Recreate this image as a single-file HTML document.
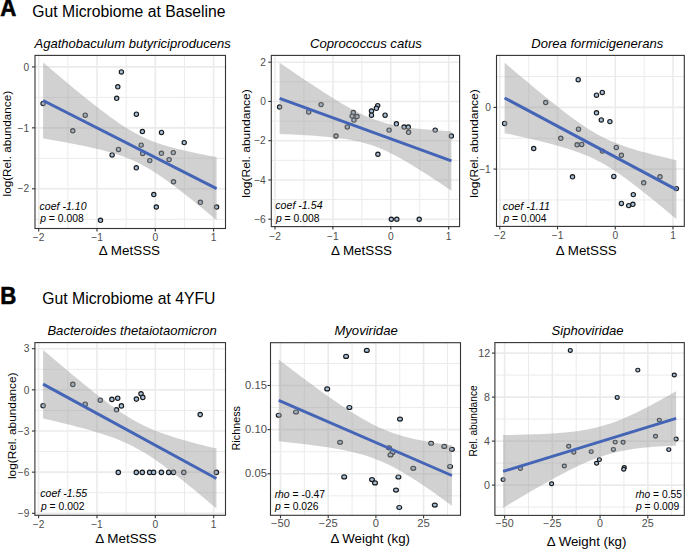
<!DOCTYPE html>
<html><head><meta charset="utf-8"><style>
html,body{margin:0;padding:0;background:#fff;}
svg{display:block;font-family:"Liberation Sans", sans-serif;}
</style></head><body>
<svg width="685" height="549" viewBox="0 0 685 549">
<rect width="685" height="549" fill="#fff"/>
<g>
<line x1="67.85" y1="55.4" x2="67.85" y2="228.5" stroke="#EBEBEB" stroke-width="1"/>
<line x1="126.15" y1="55.4" x2="126.15" y2="228.5" stroke="#EBEBEB" stroke-width="1"/>
<line x1="184.45" y1="55.4" x2="184.45" y2="228.5" stroke="#EBEBEB" stroke-width="1"/>
<line x1="35" y1="97.38" x2="225.5" y2="97.38" stroke="#EBEBEB" stroke-width="1"/>
<line x1="35" y1="158.33" x2="225.5" y2="158.33" stroke="#EBEBEB" stroke-width="1"/>
<line x1="35" y1="219.28" x2="225.5" y2="219.28" stroke="#EBEBEB" stroke-width="1"/>
<line x1="38.7" y1="55.4" x2="38.7" y2="228.5" stroke="#EBEBEB" stroke-width="1.6"/>
<line x1="97" y1="55.4" x2="97" y2="228.5" stroke="#EBEBEB" stroke-width="1.6"/>
<line x1="155.3" y1="55.4" x2="155.3" y2="228.5" stroke="#EBEBEB" stroke-width="1.6"/>
<line x1="213.6" y1="55.4" x2="213.6" y2="228.5" stroke="#EBEBEB" stroke-width="1.6"/>
<line x1="35" y1="66.9" x2="225.5" y2="66.9" stroke="#EBEBEB" stroke-width="1.6"/>
<line x1="35" y1="127.85" x2="225.5" y2="127.85" stroke="#EBEBEB" stroke-width="1.6"/>
<line x1="35" y1="188.8" x2="225.5" y2="188.8" stroke="#EBEBEB" stroke-width="1.6"/>
<ellipse cx="43.1" cy="103.4" rx="2.15" ry="2.15" fill="#A6C0DC" stroke="#1A1A1A" stroke-width="1.15"/>
<ellipse cx="72.8" cy="130.7" rx="2.15" ry="2.15" fill="#A6C0DC" stroke="#1A1A1A" stroke-width="1.15"/>
<ellipse cx="85.2" cy="115.2" rx="2.15" ry="2.15" fill="#A6C0DC" stroke="#1A1A1A" stroke-width="1.15"/>
<ellipse cx="116.7" cy="98.3" rx="2.15" ry="2.15" fill="#A6C0DC" stroke="#1A1A1A" stroke-width="1.15"/>
<ellipse cx="117.8" cy="86.8" rx="2.15" ry="2.15" fill="#A6C0DC" stroke="#1A1A1A" stroke-width="1.15"/>
<ellipse cx="121.4" cy="71.9" rx="2.15" ry="2.15" fill="#A6C0DC" stroke="#1A1A1A" stroke-width="1.15"/>
<ellipse cx="118.5" cy="149.4" rx="2.15" ry="2.15" fill="#A6C0DC" stroke="#1A1A1A" stroke-width="1.15"/>
<ellipse cx="112.1" cy="154.9" rx="2.15" ry="2.15" fill="#A6C0DC" stroke="#1A1A1A" stroke-width="1.15"/>
<ellipse cx="100.5" cy="220.3" rx="2.15" ry="2.15" fill="#A6C0DC" stroke="#1A1A1A" stroke-width="1.15"/>
<ellipse cx="136.4" cy="114.2" rx="2.15" ry="2.15" fill="#A6C0DC" stroke="#1A1A1A" stroke-width="1.15"/>
<ellipse cx="142.4" cy="131.5" rx="2.15" ry="2.15" fill="#A6C0DC" stroke="#1A1A1A" stroke-width="1.15"/>
<ellipse cx="161.5" cy="132.4" rx="2.15" ry="2.15" fill="#A6C0DC" stroke="#1A1A1A" stroke-width="1.15"/>
<ellipse cx="184.2" cy="142.6" rx="2.15" ry="2.15" fill="#A6C0DC" stroke="#1A1A1A" stroke-width="1.15"/>
<ellipse cx="141.2" cy="145.1" rx="2.15" ry="2.15" fill="#A6C0DC" stroke="#1A1A1A" stroke-width="1.15"/>
<ellipse cx="142.7" cy="153.4" rx="2.15" ry="2.15" fill="#A6C0DC" stroke="#1A1A1A" stroke-width="1.15"/>
<ellipse cx="149.8" cy="160.6" rx="2.15" ry="2.15" fill="#A6C0DC" stroke="#1A1A1A" stroke-width="1.15"/>
<ellipse cx="136.3" cy="167.8" rx="2.15" ry="2.15" fill="#A6C0DC" stroke="#1A1A1A" stroke-width="1.15"/>
<ellipse cx="161.4" cy="153.3" rx="2.15" ry="2.15" fill="#A6C0DC" stroke="#1A1A1A" stroke-width="1.15"/>
<ellipse cx="169.1" cy="159.6" rx="2.15" ry="2.15" fill="#A6C0DC" stroke="#1A1A1A" stroke-width="1.15"/>
<ellipse cx="173.3" cy="152.6" rx="2.15" ry="2.15" fill="#A6C0DC" stroke="#1A1A1A" stroke-width="1.15"/>
<ellipse cx="173.5" cy="181.7" rx="2.15" ry="2.15" fill="#A6C0DC" stroke="#1A1A1A" stroke-width="1.15"/>
<ellipse cx="153.8" cy="194.5" rx="2.15" ry="2.15" fill="#A6C0DC" stroke="#1A1A1A" stroke-width="1.15"/>
<ellipse cx="156.3" cy="207" rx="2.15" ry="2.15" fill="#A6C0DC" stroke="#1A1A1A" stroke-width="1.15"/>
<ellipse cx="200.4" cy="202.3" rx="2.15" ry="2.15" fill="#A6C0DC" stroke="#1A1A1A" stroke-width="1.15"/>
<ellipse cx="216.6" cy="207" rx="2.15" ry="2.15" fill="#A6C0DC" stroke="#1A1A1A" stroke-width="1.15"/>
<path d="M43.1,62.57 L47.55,66.34 L52,70.09 L56.45,73.83 L60.89,77.56 L65.34,81.27 L69.79,84.96 L74.24,88.63 L78.69,92.28 L83.14,95.9 L87.59,99.48 L92.04,103.02 L96.48,106.52 L100.93,109.96 L105.38,113.33 L109.83,116.63 L114.28,119.83 L118.73,122.92 L123.18,125.88 L127.63,128.7 L132.07,131.35 L136.52,133.82 L140.97,136.11 L145.42,138.22 L149.87,140.14 L154.32,141.89 L158.77,143.49 L163.22,144.96 L167.66,146.31 L172.11,147.56 L176.56,148.73 L181.01,149.83 L185.46,150.87 L189.91,151.86 L194.36,152.8 L198.81,153.71 L203.25,154.59 L207.7,155.45 L212.15,156.28 L216.6,157.09 L216.6,220.14 L212.15,216.43 L207.7,212.75 L203.25,209.08 L198.81,205.45 L194.36,201.84 L189.91,198.27 L185.46,194.74 L181.01,191.26 L176.56,187.84 L172.11,184.49 L167.66,181.23 L163.22,178.06 L158.77,175.01 L154.32,172.09 L149.87,169.33 L145.42,166.74 L140.97,164.32 L136.52,162.09 L132.07,160.05 L127.63,158.19 L123.18,156.48 L118.73,154.93 L114.28,153.5 L109.83,152.19 L105.38,150.96 L100.93,149.82 L96.48,148.74 L92.04,147.72 L87.59,146.75 L83.14,145.81 L78.69,144.91 L74.24,144.04 L69.79,143.2 L65.34,142.37 L60.89,141.56 L56.45,140.77 L52,140 L47.55,139.23 L43.1,138.48Z" fill="#999999" fill-opacity="0.45"/>
<line x1="43.1" y1="100.53" x2="216.6" y2="188.62" stroke="#4464B6" stroke-width="2.9"/>
<rect x="35" y="55.4" width="190.5" height="173.1" fill="none" stroke="#333333" stroke-width="1.1"/>
<line x1="38.7" y1="228.5" x2="38.7" y2="231.5" stroke="#333333" stroke-width="1.1"/>
<line x1="97" y1="228.5" x2="97" y2="231.5" stroke="#333333" stroke-width="1.1"/>
<line x1="155.3" y1="228.5" x2="155.3" y2="231.5" stroke="#333333" stroke-width="1.1"/>
<line x1="213.6" y1="228.5" x2="213.6" y2="231.5" stroke="#333333" stroke-width="1.1"/>
<line x1="32" y1="66.9" x2="35" y2="66.9" stroke="#333333" stroke-width="1.1"/>
<line x1="32" y1="127.85" x2="35" y2="127.85" stroke="#333333" stroke-width="1.1"/>
<line x1="32" y1="188.8" x2="35" y2="188.8" stroke="#333333" stroke-width="1.1"/>
</g>
<g>
<line x1="303.95" y1="55.4" x2="303.95" y2="226.6" stroke="#EBEBEB" stroke-width="1"/>
<line x1="361.85" y1="55.4" x2="361.85" y2="226.6" stroke="#EBEBEB" stroke-width="1"/>
<line x1="419.75" y1="55.4" x2="419.75" y2="226.6" stroke="#EBEBEB" stroke-width="1"/>
<line x1="271.3" y1="81.83" x2="459.6" y2="81.83" stroke="#EBEBEB" stroke-width="1"/>
<line x1="271.3" y1="121.08" x2="459.6" y2="121.08" stroke="#EBEBEB" stroke-width="1"/>
<line x1="271.3" y1="160.32" x2="459.6" y2="160.32" stroke="#EBEBEB" stroke-width="1"/>
<line x1="271.3" y1="199.57" x2="459.6" y2="199.57" stroke="#EBEBEB" stroke-width="1"/>
<line x1="275" y1="55.4" x2="275" y2="226.6" stroke="#EBEBEB" stroke-width="1.6"/>
<line x1="332.9" y1="55.4" x2="332.9" y2="226.6" stroke="#EBEBEB" stroke-width="1.6"/>
<line x1="390.8" y1="55.4" x2="390.8" y2="226.6" stroke="#EBEBEB" stroke-width="1.6"/>
<line x1="448.7" y1="55.4" x2="448.7" y2="226.6" stroke="#EBEBEB" stroke-width="1.6"/>
<line x1="271.3" y1="62.2" x2="459.6" y2="62.2" stroke="#EBEBEB" stroke-width="1.6"/>
<line x1="271.3" y1="101.45" x2="459.6" y2="101.45" stroke="#EBEBEB" stroke-width="1.6"/>
<line x1="271.3" y1="140.7" x2="459.6" y2="140.7" stroke="#EBEBEB" stroke-width="1.6"/>
<line x1="271.3" y1="179.95" x2="459.6" y2="179.95" stroke="#EBEBEB" stroke-width="1.6"/>
<line x1="271.3" y1="219.2" x2="459.6" y2="219.2" stroke="#EBEBEB" stroke-width="1.6"/>
<ellipse cx="279.6" cy="107" rx="2.15" ry="2.15" fill="#A6C0DC" stroke="#1A1A1A" stroke-width="1.15"/>
<ellipse cx="308.7" cy="111.9" rx="2.15" ry="2.15" fill="#A6C0DC" stroke="#1A1A1A" stroke-width="1.15"/>
<ellipse cx="321.1" cy="104.6" rx="2.15" ry="2.15" fill="#A6C0DC" stroke="#1A1A1A" stroke-width="1.15"/>
<ellipse cx="336" cy="136" rx="2.15" ry="2.15" fill="#A6C0DC" stroke="#1A1A1A" stroke-width="1.15"/>
<ellipse cx="347.3" cy="126.9" rx="2.15" ry="2.15" fill="#A6C0DC" stroke="#1A1A1A" stroke-width="1.15"/>
<ellipse cx="353.3" cy="112.5" rx="2.15" ry="2.15" fill="#A6C0DC" stroke="#1A1A1A" stroke-width="1.15"/>
<ellipse cx="352.1" cy="116.1" rx="2.15" ry="2.15" fill="#A6C0DC" stroke="#1A1A1A" stroke-width="1.15"/>
<ellipse cx="357" cy="116.5" rx="2.15" ry="2.15" fill="#A6C0DC" stroke="#1A1A1A" stroke-width="1.15"/>
<ellipse cx="353.9" cy="120.1" rx="2.15" ry="2.15" fill="#A6C0DC" stroke="#1A1A1A" stroke-width="1.15"/>
<ellipse cx="377.7" cy="105.6" rx="2.15" ry="2.15" fill="#A6C0DC" stroke="#1A1A1A" stroke-width="1.15"/>
<ellipse cx="376.4" cy="108.3" rx="2.15" ry="2.15" fill="#A6C0DC" stroke="#1A1A1A" stroke-width="1.15"/>
<ellipse cx="371.5" cy="111" rx="2.15" ry="2.15" fill="#A6C0DC" stroke="#1A1A1A" stroke-width="1.15"/>
<ellipse cx="371.5" cy="115.2" rx="2.15" ry="2.15" fill="#A6C0DC" stroke="#1A1A1A" stroke-width="1.15"/>
<ellipse cx="385.1" cy="115.2" rx="2.15" ry="2.15" fill="#A6C0DC" stroke="#1A1A1A" stroke-width="1.15"/>
<ellipse cx="396.4" cy="123.8" rx="2.15" ry="2.15" fill="#A6C0DC" stroke="#1A1A1A" stroke-width="1.15"/>
<ellipse cx="389.1" cy="130.1" rx="2.15" ry="2.15" fill="#A6C0DC" stroke="#1A1A1A" stroke-width="1.15"/>
<ellipse cx="404.1" cy="127" rx="2.15" ry="2.15" fill="#A6C0DC" stroke="#1A1A1A" stroke-width="1.15"/>
<ellipse cx="408.3" cy="127" rx="2.15" ry="2.15" fill="#A6C0DC" stroke="#1A1A1A" stroke-width="1.15"/>
<ellipse cx="408.6" cy="132.3" rx="2.15" ry="2.15" fill="#A6C0DC" stroke="#1A1A1A" stroke-width="1.15"/>
<ellipse cx="435.2" cy="130.1" rx="2.15" ry="2.15" fill="#A6C0DC" stroke="#1A1A1A" stroke-width="1.15"/>
<ellipse cx="451.4" cy="136" rx="2.15" ry="2.15" fill="#A6C0DC" stroke="#1A1A1A" stroke-width="1.15"/>
<ellipse cx="377.9" cy="154.2" rx="2.15" ry="2.15" fill="#A6C0DC" stroke="#1A1A1A" stroke-width="1.15"/>
<ellipse cx="391.3" cy="219.2" rx="2.15" ry="2.15" fill="#A6C0DC" stroke="#1A1A1A" stroke-width="1.15"/>
<ellipse cx="396.8" cy="219.2" rx="2.15" ry="2.15" fill="#A6C0DC" stroke="#1A1A1A" stroke-width="1.15"/>
<ellipse cx="419.2" cy="219.2" rx="2.15" ry="2.15" fill="#A6C0DC" stroke="#1A1A1A" stroke-width="1.15"/>
<path d="M279.6,62.71 L284.01,65.72 L288.41,68.73 L292.82,71.73 L297.22,74.72 L301.63,77.69 L306.03,80.64 L310.44,83.57 L314.84,86.48 L319.25,89.36 L323.65,92.2 L328.06,95.01 L332.46,97.78 L336.87,100.49 L341.27,103.14 L345.68,105.71 L350.08,108.2 L354.49,110.58 L358.89,112.84 L363.3,114.96 L367.7,116.92 L372.11,118.72 L376.51,120.34 L380.92,121.79 L385.32,123.07 L389.73,124.19 L394.13,125.17 L398.54,126.02 L402.94,126.76 L407.35,127.41 L411.75,127.99 L416.16,128.5 L420.56,128.95 L424.97,129.36 L429.37,129.73 L433.78,130.06 L438.18,130.37 L442.59,130.65 L446.99,130.91 L451.4,131.15 L451.4,190.65 L446.99,187.68 L442.59,184.74 L438.18,181.81 L433.78,178.91 L429.37,176.03 L424.97,173.19 L420.56,170.39 L416.16,167.64 L411.75,164.94 L407.35,162.3 L402.94,159.75 L398.54,157.28 L394.13,154.93 L389.73,152.7 L385.32,150.61 L380.92,148.68 L376.51,146.92 L372.11,145.34 L367.7,143.92 L363.3,142.68 L358.89,141.59 L354.49,140.64 L350.08,139.81 L345.68,139.09 L341.27,138.46 L336.87,137.9 L332.46,137.4 L328.06,136.96 L323.65,136.56 L319.25,136.2 L314.84,135.87 L310.44,135.57 L306.03,135.3 L301.63,135.04 L297.22,134.8 L292.82,134.58 L288.41,134.37 L284.01,134.17 L279.6,133.98Z" fill="#999999" fill-opacity="0.45"/>
<line x1="279.6" y1="98.34" x2="451.4" y2="160.9" stroke="#4464B6" stroke-width="2.9"/>
<rect x="271.3" y="55.4" width="188.3" height="171.2" fill="none" stroke="#333333" stroke-width="1.1"/>
<line x1="275" y1="226.6" x2="275" y2="229.6" stroke="#333333" stroke-width="1.1"/>
<line x1="332.9" y1="226.6" x2="332.9" y2="229.6" stroke="#333333" stroke-width="1.1"/>
<line x1="390.8" y1="226.6" x2="390.8" y2="229.6" stroke="#333333" stroke-width="1.1"/>
<line x1="448.7" y1="226.6" x2="448.7" y2="229.6" stroke="#333333" stroke-width="1.1"/>
<line x1="268.3" y1="62.2" x2="271.3" y2="62.2" stroke="#333333" stroke-width="1.1"/>
<line x1="268.3" y1="101.45" x2="271.3" y2="101.45" stroke="#333333" stroke-width="1.1"/>
<line x1="268.3" y1="140.7" x2="271.3" y2="140.7" stroke="#333333" stroke-width="1.1"/>
<line x1="268.3" y1="179.95" x2="271.3" y2="179.95" stroke="#333333" stroke-width="1.1"/>
<line x1="268.3" y1="219.2" x2="271.3" y2="219.2" stroke="#333333" stroke-width="1.1"/>
</g>
<g>
<line x1="528.67" y1="55.4" x2="528.67" y2="226.4" stroke="#EBEBEB" stroke-width="1"/>
<line x1="586.4" y1="55.4" x2="586.4" y2="226.4" stroke="#EBEBEB" stroke-width="1"/>
<line x1="644.13" y1="55.4" x2="644.13" y2="226.4" stroke="#EBEBEB" stroke-width="1"/>
<line x1="496.5" y1="76.55" x2="684.3" y2="76.55" stroke="#EBEBEB" stroke-width="1"/>
<line x1="496.5" y1="138.25" x2="684.3" y2="138.25" stroke="#EBEBEB" stroke-width="1"/>
<line x1="496.5" y1="199.95" x2="684.3" y2="199.95" stroke="#EBEBEB" stroke-width="1"/>
<line x1="499.8" y1="55.4" x2="499.8" y2="226.4" stroke="#EBEBEB" stroke-width="1.6"/>
<line x1="557.53" y1="55.4" x2="557.53" y2="226.4" stroke="#EBEBEB" stroke-width="1.6"/>
<line x1="615.27" y1="55.4" x2="615.27" y2="226.4" stroke="#EBEBEB" stroke-width="1.6"/>
<line x1="673" y1="55.4" x2="673" y2="226.4" stroke="#EBEBEB" stroke-width="1.6"/>
<line x1="496.5" y1="107.4" x2="684.3" y2="107.4" stroke="#EBEBEB" stroke-width="1.6"/>
<line x1="496.5" y1="169.1" x2="684.3" y2="169.1" stroke="#EBEBEB" stroke-width="1.6"/>
<ellipse cx="504.6" cy="123.4" rx="2.15" ry="2.15" fill="#A6C0DC" stroke="#1A1A1A" stroke-width="1.15"/>
<ellipse cx="545.7" cy="102.5" rx="2.15" ry="2.15" fill="#A6C0DC" stroke="#1A1A1A" stroke-width="1.15"/>
<ellipse cx="578.2" cy="79.7" rx="2.15" ry="2.15" fill="#A6C0DC" stroke="#1A1A1A" stroke-width="1.15"/>
<ellipse cx="578.5" cy="129.2" rx="2.15" ry="2.15" fill="#A6C0DC" stroke="#1A1A1A" stroke-width="1.15"/>
<ellipse cx="560.8" cy="138.3" rx="2.15" ry="2.15" fill="#A6C0DC" stroke="#1A1A1A" stroke-width="1.15"/>
<ellipse cx="533.7" cy="148.5" rx="2.15" ry="2.15" fill="#A6C0DC" stroke="#1A1A1A" stroke-width="1.15"/>
<ellipse cx="577.1" cy="144.8" rx="2.15" ry="2.15" fill="#A6C0DC" stroke="#1A1A1A" stroke-width="1.15"/>
<ellipse cx="581.7" cy="144.4" rx="2.15" ry="2.15" fill="#A6C0DC" stroke="#1A1A1A" stroke-width="1.15"/>
<ellipse cx="596.5" cy="95.2" rx="2.15" ry="2.15" fill="#A6C0DC" stroke="#1A1A1A" stroke-width="1.15"/>
<ellipse cx="602.3" cy="92.4" rx="2.15" ry="2.15" fill="#A6C0DC" stroke="#1A1A1A" stroke-width="1.15"/>
<ellipse cx="596.5" cy="112.8" rx="2.15" ry="2.15" fill="#A6C0DC" stroke="#1A1A1A" stroke-width="1.15"/>
<ellipse cx="601.3" cy="119.9" rx="2.15" ry="2.15" fill="#A6C0DC" stroke="#1A1A1A" stroke-width="1.15"/>
<ellipse cx="609.9" cy="121.6" rx="2.15" ry="2.15" fill="#A6C0DC" stroke="#1A1A1A" stroke-width="1.15"/>
<ellipse cx="616.3" cy="147.4" rx="2.15" ry="2.15" fill="#A6C0DC" stroke="#1A1A1A" stroke-width="1.15"/>
<ellipse cx="602.4" cy="151.1" rx="2.15" ry="2.15" fill="#A6C0DC" stroke="#1A1A1A" stroke-width="1.15"/>
<ellipse cx="621.4" cy="155.2" rx="2.15" ry="2.15" fill="#A6C0DC" stroke="#1A1A1A" stroke-width="1.15"/>
<ellipse cx="613.8" cy="176.4" rx="2.15" ry="2.15" fill="#A6C0DC" stroke="#1A1A1A" stroke-width="1.15"/>
<ellipse cx="660" cy="176.8" rx="2.15" ry="2.15" fill="#A6C0DC" stroke="#1A1A1A" stroke-width="1.15"/>
<ellipse cx="643.7" cy="182.8" rx="2.15" ry="2.15" fill="#A6C0DC" stroke="#1A1A1A" stroke-width="1.15"/>
<ellipse cx="676.4" cy="188.6" rx="2.15" ry="2.15" fill="#A6C0DC" stroke="#1A1A1A" stroke-width="1.15"/>
<ellipse cx="633.3" cy="194.6" rx="2.15" ry="2.15" fill="#A6C0DC" stroke="#1A1A1A" stroke-width="1.15"/>
<ellipse cx="621.4" cy="203.4" rx="2.15" ry="2.15" fill="#A6C0DC" stroke="#1A1A1A" stroke-width="1.15"/>
<ellipse cx="628.7" cy="205.6" rx="2.15" ry="2.15" fill="#A6C0DC" stroke="#1A1A1A" stroke-width="1.15"/>
<ellipse cx="632.9" cy="204.3" rx="2.15" ry="2.15" fill="#A6C0DC" stroke="#1A1A1A" stroke-width="1.15"/>
<ellipse cx="572.5" cy="176.8" rx="2.15" ry="2.15" fill="#A6C0DC" stroke="#1A1A1A" stroke-width="1.15"/>
<path d="M504.6,62.71 L509.01,66.47 L513.41,70.21 L517.82,73.94 L522.22,77.66 L526.63,81.36 L531.03,85.05 L535.44,88.71 L539.84,92.35 L544.25,95.97 L548.65,99.55 L553.06,103.09 L557.46,106.59 L561.87,110.04 L566.27,113.42 L570.68,116.73 L575.08,119.95 L579.49,123.07 L583.89,126.06 L588.3,128.92 L592.7,131.62 L597.11,134.15 L601.51,136.52 L605.92,138.7 L610.32,140.73 L614.73,142.59 L619.13,144.32 L623.54,145.92 L627.94,147.41 L632.35,148.82 L636.75,150.15 L641.16,151.41 L645.56,152.62 L649.97,153.78 L654.37,154.91 L658.78,156 L663.18,157.07 L667.59,158.11 L671.99,159.13 L676.4,160.13 L676.4,219.14 L671.99,215.44 L667.59,211.75 L663.18,208.09 L658.78,204.45 L654.37,200.84 L649.97,197.27 L645.56,193.73 L641.16,190.23 L636.75,186.79 L632.35,183.42 L627.94,180.12 L623.54,176.91 L619.13,173.81 L614.73,170.83 L610.32,168 L605.92,165.31 L601.51,162.8 L597.11,160.46 L592.7,158.29 L588.3,156.29 L583.89,154.44 L579.49,152.73 L575.08,151.15 L570.68,149.66 L566.27,148.27 L561.87,146.95 L557.46,145.69 L553.06,144.49 L548.65,143.33 L544.25,142.21 L539.84,141.12 L535.44,140.06 L531.03,139.02 L526.63,138 L522.22,137 L517.82,136.02 L513.41,135.05 L509.01,134.09 L504.6,133.14Z" fill="#999999" fill-opacity="0.45"/>
<line x1="504.6" y1="97.92" x2="676.4" y2="189.63" stroke="#4464B6" stroke-width="2.9"/>
<rect x="496.5" y="55.4" width="187.8" height="171" fill="none" stroke="#333333" stroke-width="1.1"/>
<line x1="499.8" y1="226.4" x2="499.8" y2="229.4" stroke="#333333" stroke-width="1.1"/>
<line x1="557.53" y1="226.4" x2="557.53" y2="229.4" stroke="#333333" stroke-width="1.1"/>
<line x1="615.27" y1="226.4" x2="615.27" y2="229.4" stroke="#333333" stroke-width="1.1"/>
<line x1="673" y1="226.4" x2="673" y2="229.4" stroke="#333333" stroke-width="1.1"/>
<line x1="493.5" y1="107.4" x2="496.5" y2="107.4" stroke="#333333" stroke-width="1.1"/>
<line x1="493.5" y1="169.1" x2="496.5" y2="169.1" stroke="#333333" stroke-width="1.1"/>
</g>
<g>
<line x1="67.78" y1="342.6" x2="67.78" y2="515.3" stroke="#EBEBEB" stroke-width="1"/>
<line x1="126.15" y1="342.6" x2="126.15" y2="515.3" stroke="#EBEBEB" stroke-width="1"/>
<line x1="184.52" y1="342.6" x2="184.52" y2="515.3" stroke="#EBEBEB" stroke-width="1"/>
<line x1="34.9" y1="369.27" x2="225.5" y2="369.27" stroke="#EBEBEB" stroke-width="1"/>
<line x1="34.9" y1="410.42" x2="225.5" y2="410.42" stroke="#EBEBEB" stroke-width="1"/>
<line x1="34.9" y1="451.57" x2="225.5" y2="451.57" stroke="#EBEBEB" stroke-width="1"/>
<line x1="34.9" y1="492.72" x2="225.5" y2="492.72" stroke="#EBEBEB" stroke-width="1"/>
<line x1="38.6" y1="342.6" x2="38.6" y2="515.3" stroke="#EBEBEB" stroke-width="1.6"/>
<line x1="96.97" y1="342.6" x2="96.97" y2="515.3" stroke="#EBEBEB" stroke-width="1.6"/>
<line x1="155.33" y1="342.6" x2="155.33" y2="515.3" stroke="#EBEBEB" stroke-width="1.6"/>
<line x1="213.7" y1="342.6" x2="213.7" y2="515.3" stroke="#EBEBEB" stroke-width="1.6"/>
<line x1="34.9" y1="348.7" x2="225.5" y2="348.7" stroke="#EBEBEB" stroke-width="1.6"/>
<line x1="34.9" y1="389.85" x2="225.5" y2="389.85" stroke="#EBEBEB" stroke-width="1.6"/>
<line x1="34.9" y1="431" x2="225.5" y2="431" stroke="#EBEBEB" stroke-width="1.6"/>
<line x1="34.9" y1="472.15" x2="225.5" y2="472.15" stroke="#EBEBEB" stroke-width="1.6"/>
<line x1="34.9" y1="513.3" x2="225.5" y2="513.3" stroke="#EBEBEB" stroke-width="1.6"/>
<ellipse cx="43.1" cy="405.7" rx="2.2" ry="2.2" fill="#A6C0DC" stroke="#1A1A1A" stroke-width="1.15"/>
<ellipse cx="72.8" cy="384.4" rx="2.2" ry="2.2" fill="#A6C0DC" stroke="#1A1A1A" stroke-width="1.15"/>
<ellipse cx="85.2" cy="404.2" rx="2.2" ry="2.2" fill="#A6C0DC" stroke="#1A1A1A" stroke-width="1.15"/>
<ellipse cx="100.3" cy="400.2" rx="2.2" ry="2.2" fill="#A6C0DC" stroke="#1A1A1A" stroke-width="1.15"/>
<ellipse cx="111.9" cy="399.4" rx="2.2" ry="2.2" fill="#A6C0DC" stroke="#1A1A1A" stroke-width="1.15"/>
<ellipse cx="117.7" cy="398.2" rx="2.2" ry="2.2" fill="#A6C0DC" stroke="#1A1A1A" stroke-width="1.15"/>
<ellipse cx="121.4" cy="405.9" rx="2.2" ry="2.2" fill="#A6C0DC" stroke="#1A1A1A" stroke-width="1.15"/>
<ellipse cx="116.5" cy="409.8" rx="2.2" ry="2.2" fill="#A6C0DC" stroke="#1A1A1A" stroke-width="1.15"/>
<ellipse cx="141" cy="393.8" rx="2.2" ry="2.2" fill="#A6C0DC" stroke="#1A1A1A" stroke-width="1.15"/>
<ellipse cx="142.8" cy="397.4" rx="2.2" ry="2.2" fill="#A6C0DC" stroke="#1A1A1A" stroke-width="1.15"/>
<ellipse cx="136.4" cy="399.1" rx="2.2" ry="2.2" fill="#A6C0DC" stroke="#1A1A1A" stroke-width="1.15"/>
<ellipse cx="200.2" cy="414.6" rx="2.2" ry="2.2" fill="#A6C0DC" stroke="#1A1A1A" stroke-width="1.15"/>
<ellipse cx="118.3" cy="472.4" rx="2.2" ry="2.2" fill="#A6C0DC" stroke="#1A1A1A" stroke-width="1.15"/>
<ellipse cx="136.3" cy="472.4" rx="2.2" ry="2.2" fill="#A6C0DC" stroke="#1A1A1A" stroke-width="1.15"/>
<ellipse cx="142.3" cy="472.4" rx="2.2" ry="2.2" fill="#A6C0DC" stroke="#1A1A1A" stroke-width="1.15"/>
<ellipse cx="149.6" cy="472.4" rx="2.2" ry="2.2" fill="#A6C0DC" stroke="#1A1A1A" stroke-width="1.15"/>
<ellipse cx="153.6" cy="472.4" rx="2.2" ry="2.2" fill="#A6C0DC" stroke="#1A1A1A" stroke-width="1.15"/>
<ellipse cx="161.4" cy="472.4" rx="2.2" ry="2.2" fill="#A6C0DC" stroke="#1A1A1A" stroke-width="1.15"/>
<ellipse cx="168.7" cy="472.4" rx="2.2" ry="2.2" fill="#A6C0DC" stroke="#1A1A1A" stroke-width="1.15"/>
<ellipse cx="173.5" cy="472.4" rx="2.2" ry="2.2" fill="#A6C0DC" stroke="#1A1A1A" stroke-width="1.15"/>
<ellipse cx="183.8" cy="472.4" rx="2.2" ry="2.2" fill="#A6C0DC" stroke="#1A1A1A" stroke-width="1.15"/>
<ellipse cx="216.4" cy="472.4" rx="2.2" ry="2.2" fill="#A6C0DC" stroke="#1A1A1A" stroke-width="1.15"/>
<path d="M43.1,349.88 L47.54,353.68 L51.99,357.47 L56.43,361.24 L60.87,365 L65.32,368.75 L69.76,372.47 L74.21,376.18 L78.65,379.85 L83.09,383.5 L87.54,387.12 L91.98,390.69 L96.42,394.21 L100.87,397.68 L105.31,401.08 L109.75,404.39 L114.2,407.62 L118.64,410.73 L123.08,413.71 L127.53,416.56 L131.97,419.24 L136.42,421.76 L140.86,424.11 L145.3,426.3 L149.75,428.32 L154.19,430.2 L158.63,431.95 L163.08,433.59 L167.52,435.12 L171.96,436.58 L176.41,437.96 L180.85,439.29 L185.29,440.56 L189.74,441.8 L194.18,443 L198.63,444.16 L203.07,445.3 L207.51,446.42 L211.96,447.52 L216.4,448.6 L216.4,508.43 L211.96,504.67 L207.51,500.93 L203.07,497.21 L198.63,493.51 L194.18,489.84 L189.74,486.2 L185.29,482.59 L180.85,479.03 L176.41,475.51 L171.96,472.06 L167.52,468.67 L163.08,465.37 L158.63,462.17 L154.19,459.08 L149.75,456.12 L145.3,453.3 L140.86,450.65 L136.42,448.16 L131.97,445.84 L127.53,443.68 L123.08,441.69 L118.64,439.83 L114.2,438.1 L109.75,436.49 L105.31,434.96 L100.87,433.52 L96.42,432.15 L91.98,430.83 L87.54,429.57 L83.09,428.34 L78.65,427.15 L74.21,425.99 L69.76,424.85 L65.32,423.73 L60.87,422.64 L56.43,421.56 L51.99,420.49 L47.54,419.44 L43.1,418.4Z" fill="#999999" fill-opacity="0.45"/>
<line x1="43.1" y1="384.14" x2="216.4" y2="478.52" stroke="#4464B6" stroke-width="2.9"/>
<rect x="34.9" y="342.6" width="190.6" height="172.7" fill="none" stroke="#333333" stroke-width="1.1"/>
<line x1="38.6" y1="515.3" x2="38.6" y2="518.3" stroke="#333333" stroke-width="1.1"/>
<line x1="96.97" y1="515.3" x2="96.97" y2="518.3" stroke="#333333" stroke-width="1.1"/>
<line x1="155.33" y1="515.3" x2="155.33" y2="518.3" stroke="#333333" stroke-width="1.1"/>
<line x1="213.7" y1="515.3" x2="213.7" y2="518.3" stroke="#333333" stroke-width="1.1"/>
<line x1="31.9" y1="348.7" x2="34.9" y2="348.7" stroke="#333333" stroke-width="1.1"/>
<line x1="31.9" y1="389.85" x2="34.9" y2="389.85" stroke="#333333" stroke-width="1.1"/>
<line x1="31.9" y1="431" x2="34.9" y2="431" stroke="#333333" stroke-width="1.1"/>
<line x1="31.9" y1="472.15" x2="34.9" y2="472.15" stroke="#333333" stroke-width="1.1"/>
<line x1="31.9" y1="513.3" x2="34.9" y2="513.3" stroke="#333333" stroke-width="1.1"/>
</g>
<g>
<line x1="304.35" y1="342.7" x2="304.35" y2="515.3" stroke="#EBEBEB" stroke-width="1"/>
<line x1="352.05" y1="342.7" x2="352.05" y2="515.3" stroke="#EBEBEB" stroke-width="1"/>
<line x1="399.75" y1="342.7" x2="399.75" y2="515.3" stroke="#EBEBEB" stroke-width="1"/>
<line x1="447.45" y1="342.7" x2="447.45" y2="515.3" stroke="#EBEBEB" stroke-width="1"/>
<line x1="270.5" y1="363.43" x2="460.5" y2="363.43" stroke="#EBEBEB" stroke-width="1"/>
<line x1="270.5" y1="407.57" x2="460.5" y2="407.57" stroke="#EBEBEB" stroke-width="1"/>
<line x1="270.5" y1="451.73" x2="460.5" y2="451.73" stroke="#EBEBEB" stroke-width="1"/>
<line x1="270.5" y1="495.88" x2="460.5" y2="495.88" stroke="#EBEBEB" stroke-width="1"/>
<line x1="280.5" y1="342.7" x2="280.5" y2="515.3" stroke="#EBEBEB" stroke-width="1.6"/>
<line x1="328.2" y1="342.7" x2="328.2" y2="515.3" stroke="#EBEBEB" stroke-width="1.6"/>
<line x1="375.9" y1="342.7" x2="375.9" y2="515.3" stroke="#EBEBEB" stroke-width="1.6"/>
<line x1="423.6" y1="342.7" x2="423.6" y2="515.3" stroke="#EBEBEB" stroke-width="1.6"/>
<line x1="270.5" y1="385.5" x2="460.5" y2="385.5" stroke="#EBEBEB" stroke-width="1.6"/>
<line x1="270.5" y1="429.65" x2="460.5" y2="429.65" stroke="#EBEBEB" stroke-width="1.6"/>
<line x1="270.5" y1="473.8" x2="460.5" y2="473.8" stroke="#EBEBEB" stroke-width="1.6"/>
<ellipse cx="278.7" cy="415.2" rx="2.45" ry="2.0" fill="#A6C0DC" stroke="#1A1A1A" stroke-width="1.15"/>
<ellipse cx="296" cy="412" rx="2.45" ry="2.0" fill="#A6C0DC" stroke="#1A1A1A" stroke-width="1.15"/>
<ellipse cx="327.2" cy="388.9" rx="2.45" ry="2.0" fill="#A6C0DC" stroke="#1A1A1A" stroke-width="1.15"/>
<ellipse cx="346.1" cy="356.4" rx="2.45" ry="2.0" fill="#A6C0DC" stroke="#1A1A1A" stroke-width="1.15"/>
<ellipse cx="349.4" cy="407.5" rx="2.45" ry="2.0" fill="#A6C0DC" stroke="#1A1A1A" stroke-width="1.15"/>
<ellipse cx="366.8" cy="350.4" rx="2.45" ry="2.0" fill="#A6C0DC" stroke="#1A1A1A" stroke-width="1.15"/>
<ellipse cx="400" cy="419.1" rx="2.45" ry="2.0" fill="#A6C0DC" stroke="#1A1A1A" stroke-width="1.15"/>
<ellipse cx="340.1" cy="442.3" rx="2.45" ry="2.0" fill="#A6C0DC" stroke="#1A1A1A" stroke-width="1.15"/>
<ellipse cx="344.2" cy="476.9" rx="2.45" ry="2.0" fill="#A6C0DC" stroke="#1A1A1A" stroke-width="1.15"/>
<ellipse cx="431.1" cy="443.2" rx="2.45" ry="2.0" fill="#A6C0DC" stroke="#1A1A1A" stroke-width="1.15"/>
<ellipse cx="444.3" cy="446.4" rx="2.45" ry="2.0" fill="#A6C0DC" stroke="#1A1A1A" stroke-width="1.15"/>
<ellipse cx="451.9" cy="449.3" rx="2.45" ry="2.0" fill="#A6C0DC" stroke="#1A1A1A" stroke-width="1.15"/>
<ellipse cx="450.1" cy="466.5" rx="2.45" ry="2.0" fill="#A6C0DC" stroke="#1A1A1A" stroke-width="1.15"/>
<ellipse cx="389" cy="447.8" rx="2.45" ry="2.0" fill="#A6C0DC" stroke="#1A1A1A" stroke-width="1.15"/>
<ellipse cx="392.5" cy="452.5" rx="2.45" ry="2.0" fill="#A6C0DC" stroke="#1A1A1A" stroke-width="1.15"/>
<ellipse cx="390.5" cy="454.9" rx="2.45" ry="2.0" fill="#A6C0DC" stroke="#1A1A1A" stroke-width="1.15"/>
<ellipse cx="413.3" cy="468.3" rx="2.45" ry="2.0" fill="#A6C0DC" stroke="#1A1A1A" stroke-width="1.15"/>
<ellipse cx="398.4" cy="477" rx="2.45" ry="2.0" fill="#A6C0DC" stroke="#1A1A1A" stroke-width="1.15"/>
<ellipse cx="372" cy="479.6" rx="2.45" ry="2.0" fill="#A6C0DC" stroke="#1A1A1A" stroke-width="1.15"/>
<ellipse cx="375" cy="482.9" rx="2.45" ry="2.0" fill="#A6C0DC" stroke="#1A1A1A" stroke-width="1.15"/>
<ellipse cx="396" cy="490.1" rx="2.45" ry="2.0" fill="#A6C0DC" stroke="#1A1A1A" stroke-width="1.15"/>
<ellipse cx="399.3" cy="507.5" rx="2.45" ry="2.0" fill="#A6C0DC" stroke="#1A1A1A" stroke-width="1.15"/>
<ellipse cx="434.8" cy="505.1" rx="2.45" ry="2.0" fill="#A6C0DC" stroke="#1A1A1A" stroke-width="1.15"/>
<path d="M278.7,359.58 L283.14,362.96 L287.58,366.34 L292.02,369.7 L296.46,373.05 L300.91,376.39 L305.35,379.7 L309.79,383 L314.23,386.27 L318.67,389.51 L323.11,392.72 L327.55,395.9 L331.99,399.03 L336.43,402.12 L340.87,405.15 L345.32,408.11 L349.76,411.01 L354.2,413.81 L358.64,416.52 L363.08,419.12 L367.52,421.6 L371.96,423.94 L376.4,426.14 L380.84,428.18 L385.28,430.07 L389.73,431.8 L394.17,433.38 L398.61,434.83 L403.05,436.14 L407.49,437.33 L411.93,438.43 L416.37,439.43 L420.81,440.35 L425.25,441.2 L429.69,441.99 L434.14,442.73 L438.58,443.42 L443.02,444.07 L447.46,444.7 L451.9,445.29 L451.9,505.67 L447.46,502.41 L443.02,499.19 L438.58,495.99 L434.14,492.84 L429.69,489.73 L425.25,486.67 L420.81,483.68 L416.37,480.75 L411.93,477.9 L407.49,475.14 L403.05,472.49 L398.61,469.95 L394.17,467.55 L389.73,465.28 L385.28,463.17 L380.84,461.21 L376.4,459.4 L371.96,457.75 L367.52,456.25 L363.08,454.87 L358.64,453.63 L354.2,452.49 L349.76,451.45 L345.32,450.49 L340.87,449.61 L336.43,448.79 L331.99,448.03 L327.55,447.32 L323.11,446.64 L318.67,446.01 L314.23,445.4 L309.79,444.82 L305.35,444.27 L300.91,443.74 L296.46,443.22 L292.02,442.72 L287.58,442.24 L283.14,441.77 L278.7,441.31Z" fill="#999999" fill-opacity="0.45"/>
<line x1="278.7" y1="400.44" x2="451.9" y2="475.48" stroke="#4464B6" stroke-width="2.9"/>
<rect x="270.5" y="342.7" width="190" height="172.6" fill="none" stroke="#333333" stroke-width="1.1"/>
<line x1="280.5" y1="515.3" x2="280.5" y2="518.3" stroke="#333333" stroke-width="1.1"/>
<line x1="328.2" y1="515.3" x2="328.2" y2="518.3" stroke="#333333" stroke-width="1.1"/>
<line x1="375.9" y1="515.3" x2="375.9" y2="518.3" stroke="#333333" stroke-width="1.1"/>
<line x1="423.6" y1="515.3" x2="423.6" y2="518.3" stroke="#333333" stroke-width="1.1"/>
<line x1="267.5" y1="385.5" x2="270.5" y2="385.5" stroke="#333333" stroke-width="1.1"/>
<line x1="267.5" y1="429.65" x2="270.5" y2="429.65" stroke="#333333" stroke-width="1.1"/>
<line x1="267.5" y1="473.8" x2="270.5" y2="473.8" stroke="#333333" stroke-width="1.1"/>
</g>
<g>
<line x1="528.47" y1="342.6" x2="528.47" y2="515.4" stroke="#EBEBEB" stroke-width="1"/>
<line x1="576.2" y1="342.6" x2="576.2" y2="515.4" stroke="#EBEBEB" stroke-width="1"/>
<line x1="623.93" y1="342.6" x2="623.93" y2="515.4" stroke="#EBEBEB" stroke-width="1"/>
<line x1="671.67" y1="342.6" x2="671.67" y2="515.4" stroke="#EBEBEB" stroke-width="1"/>
<line x1="494.9" y1="375.1" x2="684.3" y2="375.1" stroke="#EBEBEB" stroke-width="1"/>
<line x1="494.9" y1="419.1" x2="684.3" y2="419.1" stroke="#EBEBEB" stroke-width="1"/>
<line x1="494.9" y1="463.1" x2="684.3" y2="463.1" stroke="#EBEBEB" stroke-width="1"/>
<line x1="494.9" y1="507.1" x2="684.3" y2="507.1" stroke="#EBEBEB" stroke-width="1"/>
<line x1="504.6" y1="342.6" x2="504.6" y2="515.4" stroke="#EBEBEB" stroke-width="1.6"/>
<line x1="552.33" y1="342.6" x2="552.33" y2="515.4" stroke="#EBEBEB" stroke-width="1.6"/>
<line x1="600.07" y1="342.6" x2="600.07" y2="515.4" stroke="#EBEBEB" stroke-width="1.6"/>
<line x1="647.8" y1="342.6" x2="647.8" y2="515.4" stroke="#EBEBEB" stroke-width="1.6"/>
<line x1="494.9" y1="353.1" x2="684.3" y2="353.1" stroke="#EBEBEB" stroke-width="1.6"/>
<line x1="494.9" y1="397.1" x2="684.3" y2="397.1" stroke="#EBEBEB" stroke-width="1.6"/>
<line x1="494.9" y1="441.1" x2="684.3" y2="441.1" stroke="#EBEBEB" stroke-width="1.6"/>
<line x1="494.9" y1="485.1" x2="684.3" y2="485.1" stroke="#EBEBEB" stroke-width="1.6"/>
<ellipse cx="570.3" cy="350.4" rx="2.0" ry="1.9" fill="#A6C0DC" stroke="#1A1A1A" stroke-width="1.15"/>
<ellipse cx="637.8" cy="370.1" rx="2.0" ry="1.9" fill="#A6C0DC" stroke="#1A1A1A" stroke-width="1.15"/>
<ellipse cx="674.3" cy="375" rx="2.0" ry="1.9" fill="#A6C0DC" stroke="#1A1A1A" stroke-width="1.15"/>
<ellipse cx="617.2" cy="397.4" rx="2.0" ry="1.9" fill="#A6C0DC" stroke="#1A1A1A" stroke-width="1.15"/>
<ellipse cx="659.3" cy="420.1" rx="2.0" ry="1.9" fill="#A6C0DC" stroke="#1A1A1A" stroke-width="1.15"/>
<ellipse cx="655.5" cy="436.2" rx="2.0" ry="1.9" fill="#A6C0DC" stroke="#1A1A1A" stroke-width="1.15"/>
<ellipse cx="676.1" cy="439" rx="2.0" ry="1.9" fill="#A6C0DC" stroke="#1A1A1A" stroke-width="1.15"/>
<ellipse cx="503.1" cy="479.6" rx="2.0" ry="1.9" fill="#A6C0DC" stroke="#1A1A1A" stroke-width="1.15"/>
<ellipse cx="520.4" cy="468.4" rx="2.0" ry="1.9" fill="#A6C0DC" stroke="#1A1A1A" stroke-width="1.15"/>
<ellipse cx="551.6" cy="483.7" rx="2.0" ry="1.9" fill="#A6C0DC" stroke="#1A1A1A" stroke-width="1.15"/>
<ellipse cx="564.3" cy="466" rx="2.0" ry="1.9" fill="#A6C0DC" stroke="#1A1A1A" stroke-width="1.15"/>
<ellipse cx="568.7" cy="446.3" rx="2.0" ry="1.9" fill="#A6C0DC" stroke="#1A1A1A" stroke-width="1.15"/>
<ellipse cx="573.8" cy="452.3" rx="2.0" ry="1.9" fill="#A6C0DC" stroke="#1A1A1A" stroke-width="1.15"/>
<ellipse cx="591.2" cy="451.6" rx="2.0" ry="1.9" fill="#A6C0DC" stroke="#1A1A1A" stroke-width="1.15"/>
<ellipse cx="613.4" cy="449.4" rx="2.0" ry="1.9" fill="#A6C0DC" stroke="#1A1A1A" stroke-width="1.15"/>
<ellipse cx="615.2" cy="442.1" rx="2.0" ry="1.9" fill="#A6C0DC" stroke="#1A1A1A" stroke-width="1.15"/>
<ellipse cx="623.1" cy="442.3" rx="2.0" ry="1.9" fill="#A6C0DC" stroke="#1A1A1A" stroke-width="1.15"/>
<ellipse cx="668.8" cy="449.6" rx="2.0" ry="1.9" fill="#A6C0DC" stroke="#1A1A1A" stroke-width="1.15"/>
<ellipse cx="599.4" cy="459.6" rx="2.0" ry="1.9" fill="#A6C0DC" stroke="#1A1A1A" stroke-width="1.15"/>
<ellipse cx="596.6" cy="463.2" rx="2.0" ry="1.9" fill="#A6C0DC" stroke="#1A1A1A" stroke-width="1.15"/>
<ellipse cx="624.3" cy="467.5" rx="2.0" ry="1.9" fill="#A6C0DC" stroke="#1A1A1A" stroke-width="1.15"/>
<ellipse cx="623.7" cy="469.2" rx="2.0" ry="1.9" fill="#A6C0DC" stroke="#1A1A1A" stroke-width="1.15"/>
<path d="M503.1,435.01 L507.54,434.95 L511.97,434.88 L516.41,434.8 L520.84,434.7 L525.28,434.59 L529.72,434.46 L534.15,434.32 L538.59,434.15 L543.02,433.95 L547.46,433.73 L551.89,433.47 L556.33,433.18 L560.77,432.84 L565.2,432.45 L569.64,432 L574.07,431.48 L578.51,430.89 L582.95,430.21 L587.38,429.43 L591.82,428.54 L596.25,427.53 L600.69,426.39 L605.13,425.12 L609.56,423.71 L614,422.17 L618.43,420.5 L622.87,418.71 L627.31,416.8 L631.74,414.79 L636.18,412.69 L640.61,410.51 L645.05,408.25 L649.48,405.94 L653.92,403.58 L658.36,401.16 L662.79,398.71 L667.23,396.23 L671.66,393.71 L676.1,391.17 L676.1,445.64 L671.66,445.82 L667.23,446.02 L662.79,446.26 L658.36,446.53 L653.92,446.84 L649.48,447.19 L645.05,447.6 L640.61,448.07 L636.18,448.61 L631.74,449.23 L627.31,449.94 L622.87,450.75 L618.43,451.67 L614,452.72 L609.56,453.9 L605.13,455.21 L600.69,456.66 L596.25,458.25 L591.82,459.96 L587.38,461.79 L582.95,463.73 L578.51,465.77 L574.07,467.9 L569.64,470.1 L565.2,472.38 L560.77,474.71 L556.33,477.09 L551.89,479.51 L547.46,481.98 L543.02,484.47 L538.59,487 L534.15,489.55 L529.72,492.12 L525.28,494.71 L520.84,497.32 L516.41,499.95 L511.97,502.58 L507.54,505.23 L503.1,507.89Z" fill="#999999" fill-opacity="0.45"/>
<line x1="503.1" y1="471.45" x2="676.1" y2="418.4" stroke="#4464B6" stroke-width="2.9"/>
<rect x="494.9" y="342.6" width="189.4" height="172.8" fill="none" stroke="#333333" stroke-width="1.1"/>
<line x1="504.6" y1="515.4" x2="504.6" y2="518.4" stroke="#333333" stroke-width="1.1"/>
<line x1="552.33" y1="515.4" x2="552.33" y2="518.4" stroke="#333333" stroke-width="1.1"/>
<line x1="600.07" y1="515.4" x2="600.07" y2="518.4" stroke="#333333" stroke-width="1.1"/>
<line x1="647.8" y1="515.4" x2="647.8" y2="518.4" stroke="#333333" stroke-width="1.1"/>
<line x1="491.9" y1="353.1" x2="494.9" y2="353.1" stroke="#333333" stroke-width="1.1"/>
<line x1="491.9" y1="397.1" x2="494.9" y2="397.1" stroke="#333333" stroke-width="1.1"/>
<line x1="491.9" y1="441.1" x2="494.9" y2="441.1" stroke="#333333" stroke-width="1.1"/>
<line x1="491.9" y1="485.1" x2="494.9" y2="485.1" stroke="#333333" stroke-width="1.1"/>
</g>
<text x="32.89" y="241.05" font-size="10.2" fill="#4D4D4D" textLength="11.63" lengthAdjust="spacingAndGlyphs">−2</text>
<text x="91.19" y="241.05" font-size="10.2" fill="#4D4D4D" textLength="11.63" lengthAdjust="spacingAndGlyphs">−1</text>
<text x="152.46" y="241.05" font-size="10.2" fill="#4D4D4D" textLength="5.67" lengthAdjust="spacingAndGlyphs">0</text>
<text x="210.76" y="241.05" font-size="10.2" fill="#4D4D4D" textLength="5.67" lengthAdjust="spacingAndGlyphs">1</text>
<text x="23.43" y="70.55" font-size="10.2" fill="#4D4D4D" textLength="5.67" lengthAdjust="spacingAndGlyphs">0</text>
<text x="17.47" y="131.5" font-size="10.2" fill="#4D4D4D" textLength="11.63" lengthAdjust="spacingAndGlyphs">−1</text>
<text x="17.47" y="192.45" font-size="10.2" fill="#4D4D4D" textLength="11.63" lengthAdjust="spacingAndGlyphs">−2</text>
<text x="269.19" y="239.75" font-size="10.2" fill="#4D4D4D" textLength="11.63" lengthAdjust="spacingAndGlyphs">−2</text>
<text x="327.09" y="239.75" font-size="10.2" fill="#4D4D4D" textLength="11.63" lengthAdjust="spacingAndGlyphs">−1</text>
<text x="387.96" y="239.75" font-size="10.2" fill="#4D4D4D" textLength="5.67" lengthAdjust="spacingAndGlyphs">0</text>
<text x="445.86" y="239.75" font-size="10.2" fill="#4D4D4D" textLength="5.67" lengthAdjust="spacingAndGlyphs">1</text>
<text x="260.13" y="65.85" font-size="10.2" fill="#4D4D4D" textLength="5.67" lengthAdjust="spacingAndGlyphs">2</text>
<text x="260.13" y="105.1" font-size="10.2" fill="#4D4D4D" textLength="5.67" lengthAdjust="spacingAndGlyphs">0</text>
<text x="254.17" y="144.35" font-size="10.2" fill="#4D4D4D" textLength="11.63" lengthAdjust="spacingAndGlyphs">−2</text>
<text x="254.17" y="183.6" font-size="10.2" fill="#4D4D4D" textLength="11.63" lengthAdjust="spacingAndGlyphs">−4</text>
<text x="254.17" y="222.85" font-size="10.2" fill="#4D4D4D" textLength="11.63" lengthAdjust="spacingAndGlyphs">−6</text>
<text x="493.99" y="239.45" font-size="10.2" fill="#4D4D4D" textLength="11.63" lengthAdjust="spacingAndGlyphs">−2</text>
<text x="551.72" y="239.45" font-size="10.2" fill="#4D4D4D" textLength="11.63" lengthAdjust="spacingAndGlyphs">−1</text>
<text x="612.43" y="239.45" font-size="10.2" fill="#4D4D4D" textLength="5.67" lengthAdjust="spacingAndGlyphs">0</text>
<text x="670.16" y="239.45" font-size="10.2" fill="#4D4D4D" textLength="5.67" lengthAdjust="spacingAndGlyphs">1</text>
<text x="485.13" y="111.05" font-size="10.2" fill="#4D4D4D" textLength="5.67" lengthAdjust="spacingAndGlyphs">0</text>
<text x="479.17" y="172.75" font-size="10.2" fill="#4D4D4D" textLength="11.63" lengthAdjust="spacingAndGlyphs">−1</text>
<text x="32.79" y="528.25" font-size="10.2" fill="#4D4D4D" textLength="11.63" lengthAdjust="spacingAndGlyphs">−2</text>
<text x="91.15" y="528.25" font-size="10.2" fill="#4D4D4D" textLength="11.63" lengthAdjust="spacingAndGlyphs">−1</text>
<text x="152.5" y="528.25" font-size="10.2" fill="#4D4D4D" textLength="5.67" lengthAdjust="spacingAndGlyphs">0</text>
<text x="210.86" y="528.25" font-size="10.2" fill="#4D4D4D" textLength="5.67" lengthAdjust="spacingAndGlyphs">1</text>
<text x="23.83" y="352.35" font-size="10.2" fill="#4D4D4D" textLength="5.67" lengthAdjust="spacingAndGlyphs">3</text>
<text x="23.83" y="393.5" font-size="10.2" fill="#4D4D4D" textLength="5.67" lengthAdjust="spacingAndGlyphs">0</text>
<text x="17.87" y="434.65" font-size="10.2" fill="#4D4D4D" textLength="11.63" lengthAdjust="spacingAndGlyphs">−3</text>
<text x="17.87" y="475.8" font-size="10.2" fill="#4D4D4D" textLength="11.63" lengthAdjust="spacingAndGlyphs">−6</text>
<text x="17.87" y="516.95" font-size="10.2" fill="#4D4D4D" textLength="11.63" lengthAdjust="spacingAndGlyphs">−9</text>
<text x="270.98" y="527.05" font-size="10.2" fill="#4D4D4D" textLength="19.03" lengthAdjust="spacingAndGlyphs">−50</text>
<text x="318.68" y="527.05" font-size="10.2" fill="#4D4D4D" textLength="19.03" lengthAdjust="spacingAndGlyphs">−25</text>
<text x="372.78" y="527.05" font-size="10.2" fill="#4D4D4D" textLength="6.24" lengthAdjust="spacingAndGlyphs">0</text>
<text x="417.36" y="527.05" font-size="10.2" fill="#4D4D4D" textLength="12.48" lengthAdjust="spacingAndGlyphs">25</text>
<text x="245.06" y="389.15" font-size="10.2" fill="#4D4D4D" textLength="21.84" lengthAdjust="spacingAndGlyphs">0.15</text>
<text x="245.06" y="433.3" font-size="10.2" fill="#4D4D4D" textLength="21.84" lengthAdjust="spacingAndGlyphs">0.10</text>
<text x="245.06" y="477.45" font-size="10.2" fill="#4D4D4D" textLength="21.84" lengthAdjust="spacingAndGlyphs">0.05</text>
<text x="495.52" y="527.05" font-size="10.2" fill="#4D4D4D" textLength="18.17" lengthAdjust="spacingAndGlyphs">−50</text>
<text x="543.25" y="527.05" font-size="10.2" fill="#4D4D4D" textLength="18.17" lengthAdjust="spacingAndGlyphs">−25</text>
<text x="597.09" y="527.05" font-size="10.2" fill="#4D4D4D" textLength="5.96" lengthAdjust="spacingAndGlyphs">0</text>
<text x="641.84" y="527.05" font-size="10.2" fill="#4D4D4D" textLength="11.91" lengthAdjust="spacingAndGlyphs">25</text>
<text x="478.19" y="356.75" font-size="10.2" fill="#4D4D4D" textLength="11.91" lengthAdjust="spacingAndGlyphs">12</text>
<text x="484.14" y="400.75" font-size="10.2" fill="#4D4D4D" textLength="5.96" lengthAdjust="spacingAndGlyphs">8</text>
<text x="484.14" y="444.75" font-size="10.2" fill="#4D4D4D" textLength="5.96" lengthAdjust="spacingAndGlyphs">4</text>
<text x="484.14" y="488.75" font-size="10.2" fill="#4D4D4D" textLength="5.96" lengthAdjust="spacingAndGlyphs">0</text>
<text x="0.25" y="16.4" font-size="24.2" font-style="normal" font-weight="bold" textLength="16.07" lengthAdjust="spacingAndGlyphs" fill="#000" stroke="#000" stroke-width="0.6">A</text>
<text x="32.36" y="16.6" font-size="15.8" font-style="normal" font-weight="normal" textLength="193.17" lengthAdjust="spacingAndGlyphs" fill="#000">Gut Microbiome at Baseline</text>
<text x="0.21" y="303.8" font-size="23.5" font-style="normal" font-weight="bold" textLength="16.06" lengthAdjust="spacingAndGlyphs" fill="#000" stroke="#000" stroke-width="0.6">B</text>
<text x="42.36" y="304.1" font-size="15.9" font-style="normal" font-weight="normal" textLength="173.07" lengthAdjust="spacingAndGlyphs" fill="#000">Gut Microbiome at 4YFU</text>
<text x="34.51" y="48" font-size="12.8" font-style="italic" font-weight="normal" textLength="196.39" lengthAdjust="spacingAndGlyphs" fill="#000">Agathobaculum butyriciproducens</text>
<text x="309.98" y="48.3" font-size="12.8" font-style="italic" font-weight="normal" textLength="111.82" lengthAdjust="spacingAndGlyphs" fill="#000">Coprococcus catus</text>
<text x="531.3" y="48.2" font-size="12.8" font-style="italic" font-weight="normal" textLength="131.91" lengthAdjust="spacingAndGlyphs" fill="#000">Dorea formicigenerans</text>
<text x="47.4" y="335" font-size="12.8" font-style="italic" font-weight="normal" textLength="169.33" lengthAdjust="spacingAndGlyphs" fill="#000">Bacteroides thetaiotaomicron</text>
<text x="334.4" y="335" font-size="12.8" font-style="italic" font-weight="normal" textLength="63.33" lengthAdjust="spacingAndGlyphs" fill="#000">Myoviridae</text>
<text x="551.5" y="335" font-size="12.8" font-style="italic" font-weight="normal" textLength="72.03" lengthAdjust="spacingAndGlyphs" fill="#000">Siphoviridae</text>
<text x="98.89" y="255.1" font-size="12.2" font-style="normal" font-weight="normal" textLength="61.16" lengthAdjust="spacingAndGlyphs" fill="#000">Δ MetSSS</text>
<text x="330.99" y="255.2" font-size="12.2" font-style="normal" font-weight="normal" textLength="61.06" lengthAdjust="spacingAndGlyphs" fill="#000">Δ MetSSS</text>
<text x="555.89" y="255.2" font-size="12.2" font-style="normal" font-weight="normal" textLength="60.86" lengthAdjust="spacingAndGlyphs" fill="#000">Δ MetSSS</text>
<text x="95.29" y="542.6" font-size="12.2" font-style="normal" font-weight="normal" textLength="61.27" lengthAdjust="spacingAndGlyphs" fill="#000">Δ MetSSS</text>
<text x="330.49" y="542.7" font-size="12.2" font-style="normal" font-weight="normal" textLength="79.49" lengthAdjust="spacingAndGlyphs" fill="#000">Δ Weight (kg)</text>
<text x="546.79" y="545.5" font-size="12.2" font-style="normal" font-weight="normal" textLength="79.69" lengthAdjust="spacingAndGlyphs" fill="#000">Δ Weight (kg)</text>
<text transform="translate(10.9,195.7) rotate(-90)" x="-0.73" y="0" font-size="11.8" textLength="105.54" lengthAdjust="spacingAndGlyphs">log(Rel. abundance)</text>
<text transform="translate(249.9,196.9) rotate(-90)" x="-0.75" y="0" font-size="11.8" textLength="108.48" lengthAdjust="spacingAndGlyphs">log(Rel. abundance)</text>
<text transform="translate(477.5,196.9) rotate(-90)" x="-0.75" y="0" font-size="11.8" textLength="108.48" lengthAdjust="spacingAndGlyphs">log(Rel. abundance)</text>
<text transform="translate(16.4,478.3) rotate(-90)" x="-0.74" y="0" font-size="11.8" textLength="106.55" lengthAdjust="spacingAndGlyphs">log(Rel. abundance)</text>
<text transform="translate(239.9,449.6) rotate(-90)" x="-0.84" y="0" font-size="11.8" textLength="44.38" lengthAdjust="spacingAndGlyphs">Richness</text>
<text transform="translate(477,455.7) rotate(-90)" x="-0.79" y="0" font-size="11.8" textLength="71.1" lengthAdjust="spacingAndGlyphs">Rel. abundance</text>
<text x="39.57" y="209.6" font-size="10.8" font-style="italic" font-weight="normal" textLength="46.96" lengthAdjust="spacingAndGlyphs" fill="#000">coef -1.10</text>
<text x="40.22" y="221.8" font-size="10.8" font-style="italic" textLength="5.76" lengthAdjust="spacingAndGlyphs">p</text>
<text x="45.99" y="221.8" font-size="10.8" textLength="37.73" lengthAdjust="spacingAndGlyphs">&#160;=&#160;0.008</text>
<text x="275.27" y="209.4" font-size="10.8" font-style="italic" font-weight="normal" textLength="47.3" lengthAdjust="spacingAndGlyphs" fill="#000">coef -1.54</text>
<text x="275.92" y="221.8" font-size="10.8" font-style="italic" textLength="5.76" lengthAdjust="spacingAndGlyphs">p</text>
<text x="281.69" y="221.8" font-size="10.8" textLength="37.73" lengthAdjust="spacingAndGlyphs">&#160;=&#160;0.008</text>
<text x="502.76" y="209.8" font-size="10.8" font-style="italic" font-weight="normal" textLength="47.31" lengthAdjust="spacingAndGlyphs" fill="#000">coef -1.11</text>
<text x="503.42" y="222" font-size="10.8" font-style="italic" textLength="5.71" lengthAdjust="spacingAndGlyphs">p</text>
<text x="509.14" y="222" font-size="10.8" textLength="37.42" lengthAdjust="spacingAndGlyphs">&#160;=&#160;0.004</text>
<text x="40.27" y="497.4" font-size="10.8" font-style="italic" font-weight="normal" textLength="46.96" lengthAdjust="spacingAndGlyphs" fill="#000">coef -1.55</text>
<text x="40.92" y="509.8" font-size="10.8" font-style="italic" textLength="5.76" lengthAdjust="spacingAndGlyphs">p</text>
<text x="46.69" y="509.8" font-size="10.8" textLength="37.73" lengthAdjust="spacingAndGlyphs">&#160;=&#160;0.002</text>
<text x="274.64" y="497.6" font-size="10.8" font-style="italic" textLength="15" lengthAdjust="spacingAndGlyphs">rho</text>
<text x="289.64" y="497.6" font-size="10.8" textLength="35.48" lengthAdjust="spacingAndGlyphs">&#160;=&#160;-0.47</text>
<text x="275.12" y="509.8" font-size="10.8" font-style="italic" textLength="5.76" lengthAdjust="spacingAndGlyphs">p</text>
<text x="280.89" y="509.8" font-size="10.8" textLength="37.73" lengthAdjust="spacingAndGlyphs">&#160;=&#160;0.026</text>
<text x="635.44" y="497.5" font-size="10.8" font-style="italic" textLength="14.82" lengthAdjust="spacingAndGlyphs">rho</text>
<text x="650.26" y="497.5" font-size="10.8" textLength="31.65" lengthAdjust="spacingAndGlyphs">&#160;=&#160;0.55</text>
<text x="635.92" y="509.8" font-size="10.8" font-style="italic" textLength="5.74" lengthAdjust="spacingAndGlyphs">p</text>
<text x="641.66" y="509.8" font-size="10.8" textLength="37.56" lengthAdjust="spacingAndGlyphs">&#160;=&#160;0.009</text>
</svg></body></html>
